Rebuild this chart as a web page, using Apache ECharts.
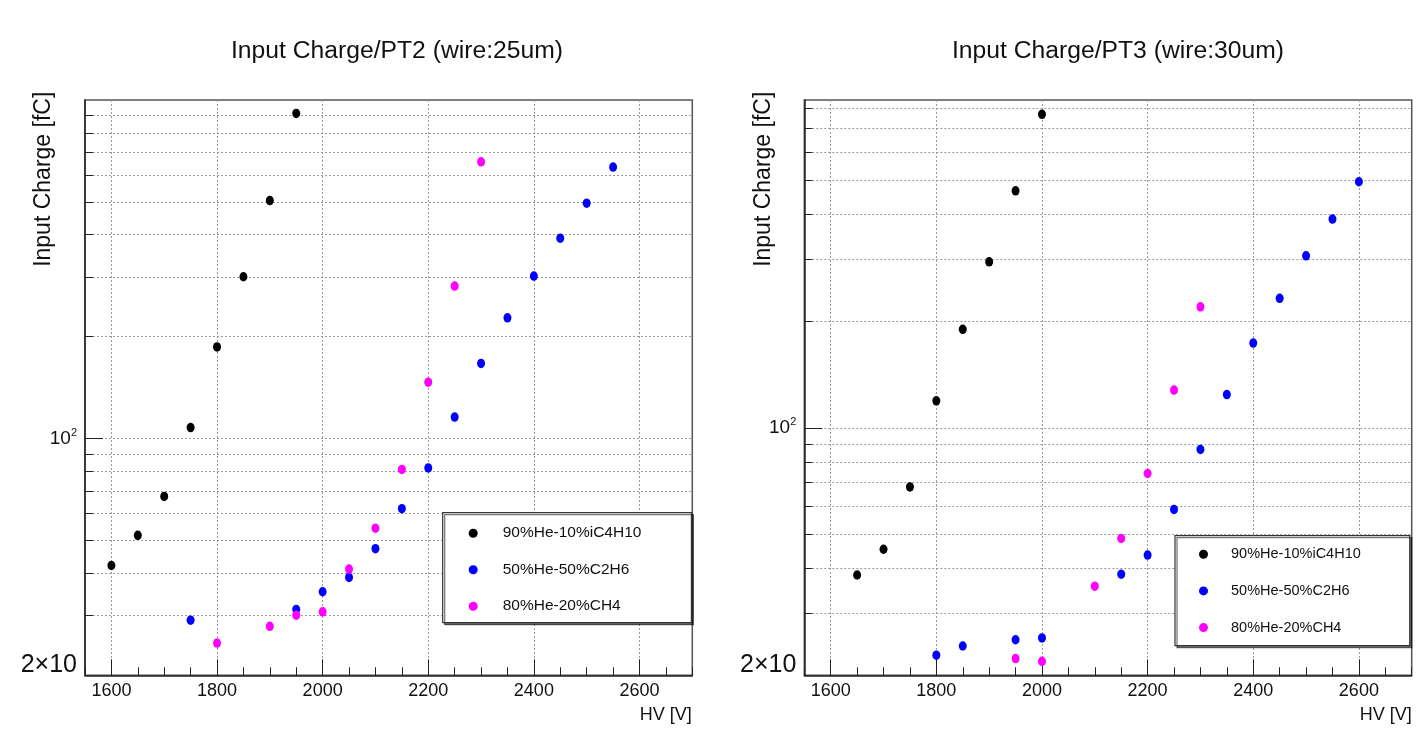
<!DOCTYPE html>
<html><head><meta charset="utf-8">
<script src="https://cdn.jsdelivr.net/npm/echarts@6/dist/echarts.min.js"></script>
<style>html,body{margin:0;padding:0;background:#fff}#c{width:1421px;height:747px}</style>
</head><body><div id="c"></div>
<script>
// ---- data ----
const seriesNames = ['90%He-10%iC4H10', '50%He-50%C2H6', '80%He-20%CH4'];
const seriesColors = ['#000000', '#0000ff', '#ff00ff'];
const panelTitles = ['Input Charge/PT2 (wire:25um)', 'Input Charge/PT3 (wire:30um)'];

// PT2 (wire 25um)
const pt2BlackHV = [1600, 1650, 1700, 1750, 1800, 1850, 1900, 1950];
const pt2BlackQ  = [42.2, 51.8, 67.5, 107.8, 186.6, 300.6, 504.7, 912.7];
const pt2BlueHV  = [1750, 1950, 2000, 2050, 2100, 2150, 2200, 2250, 2300, 2350, 2400, 2450, 2500, 2550];
const pt2BlueQ   = [29.1, 31.3, 35.3, 38.9, 47.3, 62.1, 81.9, 115.8, 166.7, 227.4, 302.1, 390.7, 495.9, 633.7];
const pt2MagHV   = [1800, 1900, 1950, 2000, 2050, 2100, 2150, 2200, 2250, 2300];
const pt2MagQ    = [24.9, 27.9, 30.1, 30.8, 41.2, 54.4, 81.1, 146.8, 282.2, 656.9];

// PT3 (wire 30um)
const pt3BlackHV = [1650, 1700, 1750, 1800, 1850, 1900, 1950, 2000];
const pt3BlackQ  = [38.4, 45.4, 68.1, 119.2, 189.7, 294.4, 467.1, 767.9];
const pt3BlueHV  = [1800, 1850, 1950, 2000, 2150, 2200, 2250, 2300, 2350, 2400, 2450, 2500, 2550, 2600];
const pt3BlueQ   = [22.8, 24.2, 25.2, 25.5, 38.6, 43.7, 58.8, 86.9, 124.1, 173.5, 232.1, 306.1, 388.7, 495.4];
const pt3MagHV   = [1950, 2000, 2100, 2150, 2200, 2250, 2300];
const pt3MagQ    = [22.3, 21.9, 35.7, 48.7, 74.3, 127.8, 219.7];

// axis ranges / ticks
const xMin = 1550, xMax = 2700;
const xMajorTicks = [1600, 1800, 2000, 2200, 2400, 2600];
const yMin = 20;
const yMaxPanels = [1000, 843];
const yMajorTicks = [100];
const yLabelTicks = [20, 100];
const yMinorTicks = [30, 40, 50, 60, 70, 80, 90, 200, 300, 400, 500, 600, 700, 800, 900];

// ---- layout ----
const SANS = '"Liberation Sans", Arial, Helvetica, sans-serif';
const grids = [
  {left: 85, top: 100, width: 607.3, height: 575.3},
  {left: 804.3, top: 100, width: 607.4, height: 575.3}
];
const gridLine = {show: true, lineStyle: {color: '#9a9a9a', width: 1, type: [2, 2]}};

const zip = (a, b) => a.map((v, i) => [v, b[i]]);
const panelData = [
  [zip(pt2BlackHV, pt2BlackQ), zip(pt2BlueHV, pt2BlueQ), zip(pt2MagHV, pt2MagQ)],
  [zip(pt3BlackHV, pt3BlackQ), zip(pt3BlueHV, pt3BlueQ), zip(pt3MagHV, pt3MagQ)]
];

const xAxes = [], yAxes = [], series = [];
grids.forEach((g, gi) => {
  // main x axis
  xAxes.push({
    gridIndex: gi, type: 'value', position: 'bottom', min: xMin, max: xMax,
    axisLine: {show: true, lineStyle: {color: '#222', width: 1.5}},
    axisTick: {show: true, inside: true, length: 16, customValues: xMajorTicks, lineStyle: {color: '#222', width: 1}},
    axisLabel: {customValues: xMajorTicks, margin: 7, fontSize: 18, fontFamily: SANS, color: '#111',
                formatter: v => String(v)},
    splitLine: gridLine
  });
  // minor x ticks
  xAxes.push({
    gridIndex: gi, type: 'value', position: 'bottom', min: xMin, max: xMax, interval: 50,
    axisLine: {show: false},
    axisTick: {show: true, inside: true, length: 8, lineStyle: {color: '#222', width: 1}},
    axisLabel: {show: false}, splitLine: {show: false}
  });
  // main y axis
  yAxes.push({
    gridIndex: gi, type: 'log', logBase: 10, position: 'left', min: yMin, max: yMaxPanels[gi],
    axisLine: {show: true, lineStyle: {color: '#222', width: 1.5}},
    axisTick: {show: true, inside: true, length: 18, customValues: yMajorTicks, lineStyle: {color: '#222', width: 1}},
    axisLabel: {
      customValues: yLabelTicks, margin: 8, color: '#111',
      formatter: v => (v < 50 ? '{big|2×10}' : '{n|10}{s|2}'),
      rich: {
        big: {fontSize: 25, fontFamily: SANS, color: '#111', padding: [0, 0, 20, 0]},
        n: {fontSize: 19, fontFamily: SANS, color: '#111'},
        s: {fontSize: 11, fontFamily: SANS, color: '#111', padding: [0, 0, 12, 0]}
      }
    },
    splitLine: gridLine
  });
  // minor y ticks
  yAxes.push({
    gridIndex: gi, type: 'log', logBase: 10, position: 'left', min: yMin, max: yMaxPanels[gi],
    axisLine: {show: false},
    axisTick: {show: true, inside: true, length: 8, customValues: yMinorTicks, lineStyle: {color: '#222', width: 1}},
    axisLabel: {show: false},
    splitLine: gridLine
  });
  panelData[gi].forEach((d, si) => {
    series.push({
      name: seriesNames[si], type: 'scatter', xAxisIndex: 2 * gi, yAxisIndex: 2 * gi,
      data: d, symbol: 'circle', symbolSize: [8, 9.5],
      itemStyle: {color: seriesColors[si], opacity: 1}, z: 5
    });
  });
});

const legendBase = {
  orient: 'vertical', itemWidth: 9, itemHeight: 11, icon: 'circle',
  backgroundColor: '#fff', borderColor: '#333', borderWidth: 1.2,
  shadowColor: 'rgba(0,0,0,0.55)', shadowOffsetX: 2, shadowOffsetY: 2, shadowBlur: 0,
  data: seriesNames, z: 10
};

const textCommon = {fontFamily: SANS, fill: '#111'};

const option = {
  backgroundColor: '#fff',
  animation: false,
  title: [
    {text: panelTitles[0], left: 392, top: 34, textAlign: 'center',
     textStyle: {fontFamily: SANS, fontSize: 24.7, fontWeight: 'normal', color: '#111'}},
    {text: panelTitles[1], left: 1113, top: 34, textAlign: 'center',
     textStyle: {fontFamily: SANS, fontSize: 24.7, fontWeight: 'normal', color: '#111'}}
  ],
  grid: grids.map(g => Object.assign({show: true, borderColor: '#555', borderWidth: 1.5,
    backgroundColor: 'transparent', outerBoundsMode: 'none', containLabel: false}, g)),
  xAxis: xAxes,
  yAxis: yAxes,
  legend: [
    Object.assign({}, legendBase, {left: 442.7, top: 512.7, padding: [10.5, 50, 6.5, 26], itemGap: 16.5,
      textStyle: {fontFamily: SANS, fontSize: 15.5, lineHeight: 20, color: '#111', padding: [0, 0, 0, 20]}}),
    Object.assign({}, legendBase, {left: 1175, top: 535.7, padding: [8.5, 49, 8, 24], itemGap: 16.7,
      textStyle: {fontFamily: SANS, fontSize: 14.5, lineHeight: 20, color: '#111', padding: [0, 0, 0, 18]}})
  ],
  graphic: [
    {type: 'text', x: 43.3, y: 91.7, rotation: Math.PI / 2,
     style: Object.assign({text: 'Input Charge [fC]', align: 'right', verticalAlign: 'middle', fontSize: 23}, textCommon)},
    {type: 'text', x: 763.3, y: 91.7, rotation: Math.PI / 2,
     style: Object.assign({text: 'Input Charge [fC]', align: 'right', verticalAlign: 'middle', fontSize: 23}, textCommon)},
    {type: 'text', x: 691.7, y: 715, 
     style: Object.assign({text: 'HV [V]', align: 'right', verticalAlign: 'middle', fontSize: 18}, textCommon)},
    {type: 'text', x: 1411.7, y: 715,
     style: Object.assign({text: 'HV [V]', align: 'right', verticalAlign: 'middle', fontSize: 18}, textCommon)}
  ],
  series: series
};

const chart = echarts.init(document.getElementById('c'), null, {renderer: 'canvas'});
chart.setOption(option);
</script>
</body></html>
